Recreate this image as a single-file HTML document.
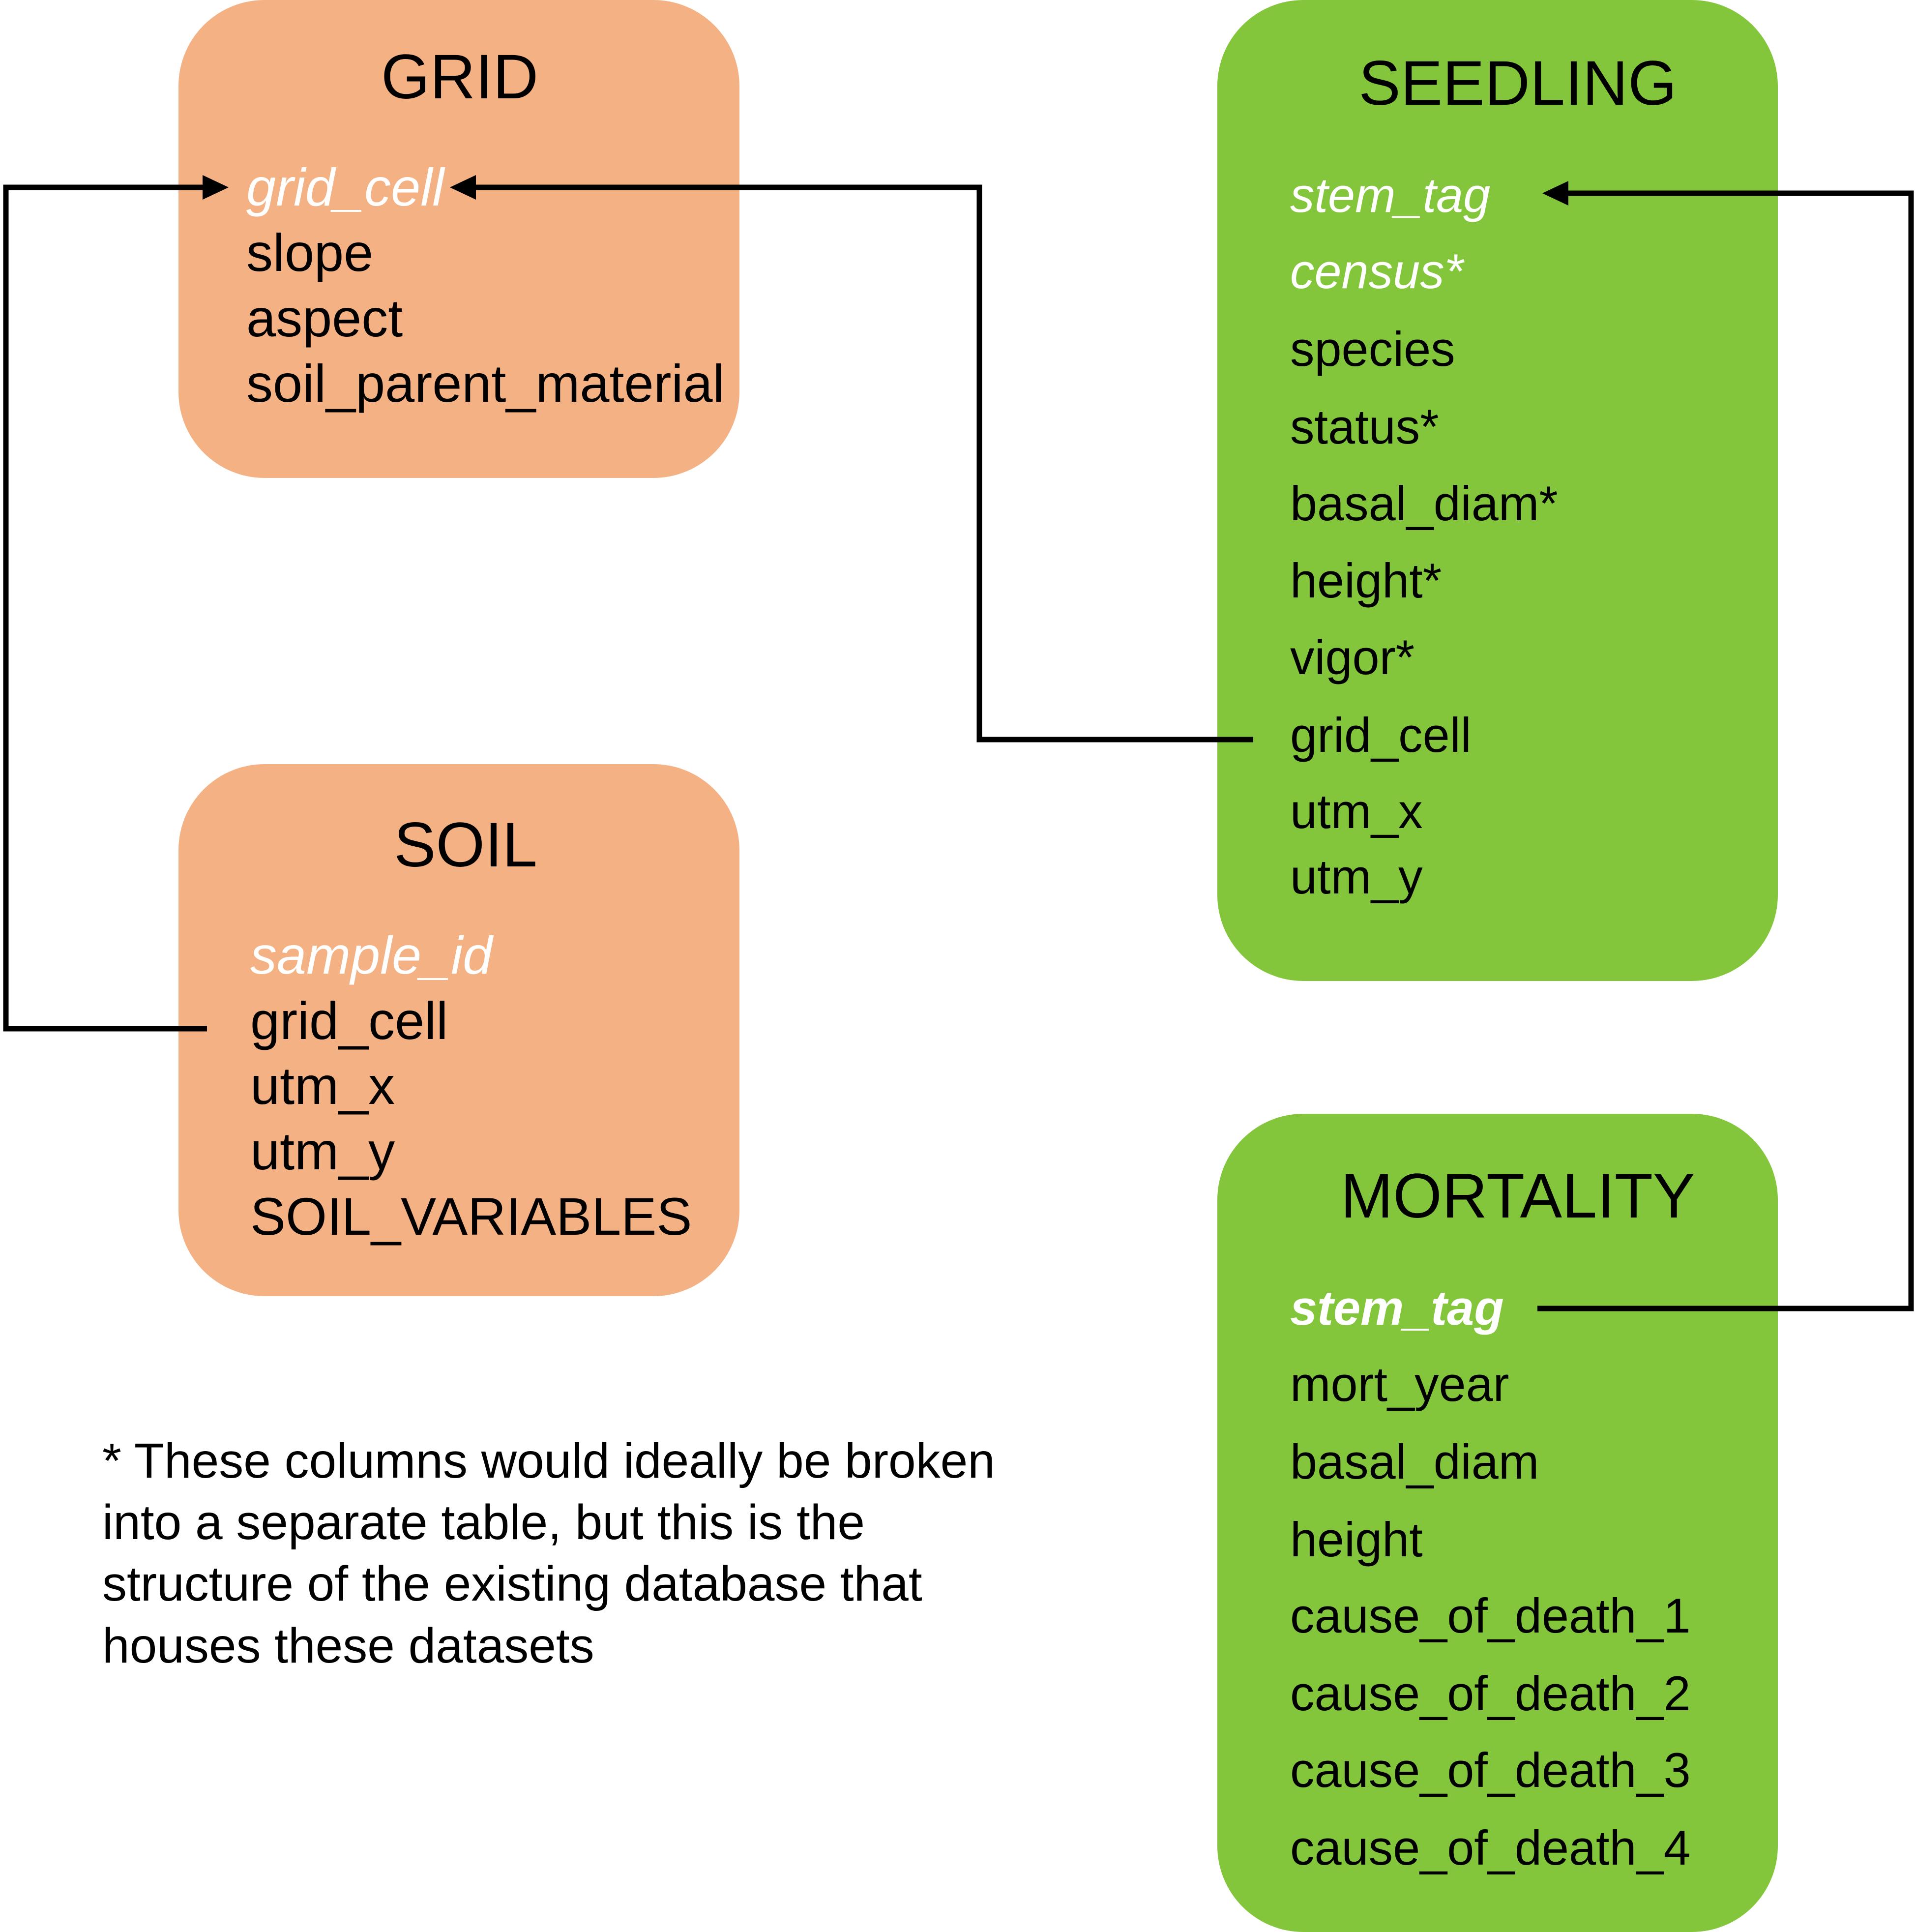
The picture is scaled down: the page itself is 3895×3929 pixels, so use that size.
<!DOCTYPE html>
<html><head><meta charset="utf-8"><style>html,body{margin:0;padding:0;background:#fff}svg{display:block}</style></head>
<body>
<svg width="3895" height="3929" viewBox="0 0 3895 3929" xmlns="http://www.w3.org/2000/svg" font-family="Liberation Sans, Arial, sans-serif">
<rect x="0" y="0" width="3895" height="3929" fill="#fff"/>
<rect x="363" y="0" width="1141" height="972" rx="175" fill="#F4B183"/>
<rect x="363" y="1554" width="1141" height="1082" rx="175" fill="#F4B183"/>
<rect x="2476" y="0" width="1140" height="1995" rx="175" fill="#84C63B"/>
<rect x="2476" y="2265" width="1140" height="1664" rx="175" fill="#84C63B"/>

<g fill="none" stroke="#000" stroke-width="11">
<polyline points="421,2092 12,2092 12,381 420,381"/>
<polyline points="2549,1504 1992,1504 1992,381 960,381"/>
<polyline points="3127,2661 3887,2661 3887,393 3180,393"/>
</g>
<g fill="#000">
<polygon points="465,381 412,356 412,406"/>
<polygon points="915,381 968,356 968,406"/>
<polygon points="3137,393 3190,368 3190,418"/>
</g>

<g font-size="128" text-anchor="middle" fill="#000">
<text x="935" y="200">GRID</text>
<text x="947" y="1762">SOIL</text>
<text x="3087" y="213">SEEDLING</text>
<text x="3087" y="2476">MORTALITY</text>
</g>

<g font-size="108" fill="#000">
<text x="501" y="418" fill="#fff" font-style="italic">grid_cell</text>
<text x="501" y="551">slope</text>
<text x="501" y="684">aspect</text>
<text x="501" y="817">soil_parent_material</text>

<text x="509" y="1980" fill="#fff" font-style="italic">sample_id</text>
<text x="509" y="2113">grid_cell</text>
<text x="509" y="2245">utm_x</text>
<text x="509" y="2378">utm_y</text>
<text x="509" y="2511">SOIL_VARIABLES</text>
</g>

<g font-size="99" fill="#000">
<text x="2624" y="431" fill="#fff" font-style="italic">stem_tag</text>
<text x="2624" y="586" fill="#fff" font-style="italic">census*</text>
<text x="2624" y="744">species</text>
<text x="2624" y="902">status*</text>
<text x="2624" y="1058">basal_diam*</text>
<text x="2624" y="1215">height*</text>
<text x="2624" y="1371">vigor*</text>
<text x="2624" y="1529">grid_cell</text>
<text x="2624" y="1684">utm_x</text>
<text x="2624" y="1817">utm_y</text>

<text x="2624" y="2694" fill="#fff" font-style="italic" font-weight="bold">stem_tag</text>
<text x="2624" y="2849">mort_year</text>
<text x="2624" y="3007">basal_diam</text>
<text x="2624" y="3165">height</text>
<text x="2624" y="3320">cause_of_death_1</text>
<text x="2624" y="3478">cause_of_death_2</text>
<text x="2624" y="3634">cause_of_death_3</text>
<text x="2624" y="3792">cause_of_death_4</text>
</g>

<g font-size="100" fill="#000">
<text x="208" y="3005">* These columns would ideally be broken</text>
<text x="208" y="3130">into a separate table, but this is the</text>
<text x="208" y="3255">structure of the existing database that</text>
<text x="208" y="3381">houses these datasets</text>
</g>
</svg>
</body></html>
